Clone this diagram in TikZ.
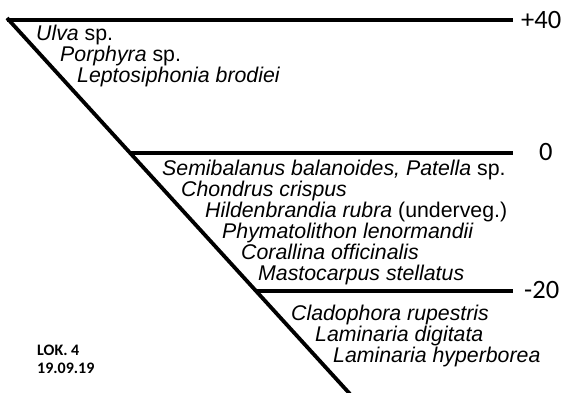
\documentclass[tikz,border=0pt]{standalone}
\usepackage{fontspec}
\setmainfont{Liberation Sans}
\newfontfamily\calib{Carlito}
\usetikzlibrary{calc}
\tikzset{
  species/.style={anchor=base west, inner sep=0pt, font=\fontsize{21.3}{23}\selectfont\itshape},
  level/.style={anchor=west, inner sep=0pt, font=\calib\fontsize{26.5}{28}\selectfont},
  stamp/.style={anchor=base west, inner sep=0pt, font=\calib\bfseries\fontsize{16}{18}\selectfont},
  zoneline/.style={line width=3.2pt},
  slope/.style={line width=3.8pt}
}
\begin{document}
\begin{tikzpicture}[x=1pt,y=-1pt]
\useasboundingbox (0,0) rectangle (564,392);
\coordinate (top) at (7,18);
\coordinate (bot) at (350,394);
\draw[slope] (top) -- (bot);
\coordinate (l40s) at (7,20);
\coordinate (l40e) at (513,20);
\coordinate (l0s) at ($(top)!{(153-18)/376}!(bot)$);
\coordinate (l0e) at (513,153);
\coordinate (l20s) at ($(top)!{(291-18)/376}!(bot)$);
\coordinate (l20e) at (513,291);
\draw[zoneline] (l40s) -- (l40e);
\draw[zoneline] (l0s |- l0e) -- (l0e);
\draw[zoneline] (l20s |- l20e) -- (l20e);
\node[level] (t40) at (521,20) {+40};
\node[level] (t0) at (539,152) {0};
\node[level] (t20) at (524,290) {-20};
\node[species] (s1) at (36,40) {Ulva\/ \upshape sp.};
\node[species] (s2) at (60,61) {Porphyra\/ \upshape sp.};
\node[species] (s3) at (77,82) {Leptosiphonia brodiei};
\node[species] (s4) at (162,175) {Semibalanus balanoides, Patella\/ \upshape sp.};
\node[species] (s5) at (181,196) {Chondrus crispus};
\node[species] (s6) at (205,217) {Hildenbrandia rubra\/ \upshape (underveg.)};
\node[species] (s7) at (222,238) {Phymatolithon lenormandii};
\node[species] (s8) at (241,259) {Corallina officinalis};
\node[species] (s9) at (258,280) {Mastocarpus stellatus};
\node[species] (s10) at (291,320) {Cladophora rupestris};
\node[species] (s11) at (315,341) {Laminaria digitata};
\node[species] (s12) at (333,362) {Laminaria hyperborea};
\node[stamp] (lok) at (37,355) {LOK. 4};
\node[stamp] (date) at (37,373) {19.09.19};
\end{tikzpicture}
\end{document}
